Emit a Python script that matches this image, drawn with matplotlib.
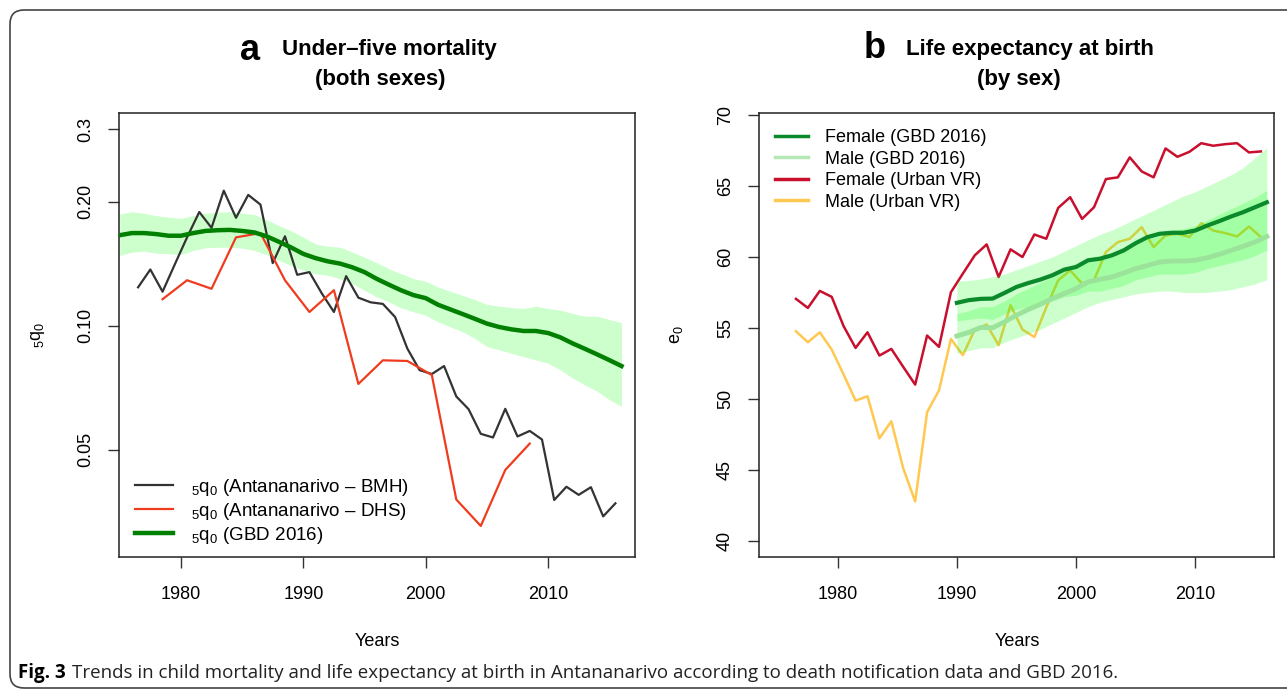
import matplotlib
matplotlib.use("Agg")
import matplotlib.pyplot as plt
from matplotlib.patches import FancyBboxPatch
from matplotlib.transforms import IdentityTransform
from matplotlib.ticker import FixedLocator, FixedFormatter, NullLocator

plt.rcParams['font.family'] = ['Liberation Sans', 'DejaVu Sans']
plt.rcParams['mathtext.fontset'] = 'custom'
plt.rcParams['mathtext.rm'] = 'Liberation Sans'
plt.rcParams['mathtext.it'] = 'Liberation Sans:italic'
plt.rcParams['mathtext.bf'] = 'Liberation Sans:bold'

# ---- panel a : under-five mortality (log scale) ----
gbd_years = list(range(1975, 2017))
gbd_q5 = [0.166, 0.168, 0.168, 0.167, 0.1655, 0.1655, 0.168, 0.170, 0.1707, 0.171,
          0.170, 0.1686, 0.165, 0.160, 0.155, 0.1495, 0.146, 0.1434, 0.1416, 0.1387,
          0.135, 0.130, 0.1258, 0.1219, 0.1187, 0.1167, 0.1125, 0.1096, 0.1068, 0.1040,
          0.1012, 0.0993, 0.098, 0.0971, 0.0971, 0.096, 0.0937, 0.0906, 0.0879, 0.0852,
          0.0825, 0.0798]
gbd_q5_hi = [0.1869, 0.1893, 0.1876, 0.1852, 0.1835, 0.1824, 0.1852, 0.1876, 0.1890, 0.1893,
             0.1879, 0.1862, 0.1811, 0.1752, 0.1703, 0.1641, 0.1581, 0.1561, 0.1552, 0.1510,
             0.1468, 0.1423, 0.1376, 0.1338, 0.1302, 0.1282, 0.1242, 0.1213, 0.1186, 0.1158,
             0.1128, 0.1116, 0.1107, 0.1101, 0.1116, 0.1101, 0.1091, 0.1071, 0.1055, 0.1055,
             0.1036, 0.1017]
gbd_q5_lo = [0.1482, 0.1510, 0.1518, 0.1501, 0.1496, 0.1490, 0.1524, 0.1547, 0.1552, 0.1552,
             0.1544, 0.1524, 0.1488, 0.1441, 0.1402, 0.1363, 0.1338, 0.1326, 0.1302, 0.1266,
             0.1219, 0.1175, 0.1143, 0.1105, 0.1081, 0.1061, 0.1022, 0.0994, 0.0967, 0.0932,
             0.0890, 0.0874, 0.0857, 0.0841, 0.0826, 0.0811, 0.0781, 0.0746, 0.0718, 0.0693,
             0.0661, 0.0637]

bmh_years = [1976.5, 1977.5, 1978.5, 1979.5, 1980.5, 1981.5, 1982.5, 1983.5, 1984.5, 1985.5,
             1986.5, 1987.5, 1988.5, 1989.5, 1990.5, 1991.5, 1992.5, 1993.5, 1994.5, 1995.5,
             1996.5, 1997.5, 1998.5, 1999.5, 2000.5, 2001.5, 2002.5, 2003.5, 2004.5, 2005.5,
             2006.5, 2007.5, 2008.5, 2009.5, 2010.5, 2011.5, 2012.5, 2013.5, 2014.5, 2015.5]
bmh_q5 = [0.124, 0.137, 0.121, 0.141, 0.164, 0.189, 0.173, 0.213, 0.183, 0.208,
          0.197, 0.142, 0.165, 0.133, 0.135, 0.120, 0.108, 0.132, 0.117, 0.114,
          0.113, 0.105, 0.088, 0.078, 0.0763, 0.0798, 0.0673, 0.0627, 0.0546, 0.0535,
          0.0628, 0.0538, 0.0555, 0.0529, 0.0377, 0.0406, 0.0388, 0.0405, 0.0344, 0.0370]

dhs_years = [1978.5, 1980.5, 1982.5, 1984.5, 1986.5, 1988.5, 1990.5, 1992.5,
             1994.5, 1996.5, 1998.5, 2000.5, 2002.5, 2004.5, 2006.5, 2008.5]
dhs_q5 = [0.116, 0.129, 0.123, 0.164, 0.168, 0.129, 0.108, 0.122,
          0.0722, 0.0824, 0.0821, 0.0759, 0.0378, 0.0326, 0.0446, 0.0517]

q5_ticks = [0.05, 0.10, 0.20, 0.3]
q5_ticklabels = ['0.05', '0.10', '0.20', '0.3']
year_ticks = [1980, 1990, 2000, 2010]

# ---- panel b : life expectancy at birth ----
vr_years = bmh_years
female_vr = [57.05, 56.41, 57.61, 57.19, 55.12, 53.59, 54.69, 53.05, 53.52, 52.25,
             51.0, 54.46, 53.66, 57.52, 58.83, 60.12, 60.89, 58.59, 60.54, 60.0,
             61.59, 61.29, 63.47, 64.22, 62.69, 63.51, 65.50, 65.62, 67.03, 66.04,
             65.62, 67.66, 67.07, 67.42, 68.03, 67.85, 67.96, 68.03, 67.38, 67.45]
male_vr = [54.76, 53.99, 54.69, 53.47, 51.71, 49.87, 50.18, 47.21, 48.41, 45.09,
           42.76, 49.05, 50.6, 54.22, 53.08, 54.88, 55.24, 53.78, 56.6, 54.88,
           54.36, 56.45, 58.36, 59.06, 58.13, 58.36, 60.35, 61.05, 61.29, 62.11,
           60.70, 61.52, 61.64, 61.41, 62.39, 61.87, 61.69, 61.45, 62.15, 61.41]

e0_years = list(range(1990, 2017))
female_gbd = [56.77, 56.96, 57.05, 57.07, 57.47, 57.89, 58.17, 58.41, 58.71, 59.11,
              59.30, 59.77, 59.88, 60.12, 60.47, 60.98, 61.41, 61.64, 61.71, 61.71,
              61.87, 62.22, 62.53, 62.86, 63.16, 63.51, 63.86]
female_gbd_hi = [58.3, 58.35, 58.45, 58.6, 58.8, 59.1, 59.4, 59.7, 60.0, 60.4,
                 60.8, 61.2, 61.6, 61.9, 62.3, 62.7, 63.1, 63.5, 63.9, 64.3,
                 64.6, 65.0, 65.4, 65.8, 66.3, 67.0, 67.7]
female_gbd_lo = [55.5, 55.6, 55.7, 55.6, 56.0, 56.3, 56.5, 56.7, 56.9, 57.2,
                 57.3, 57.6, 57.6, 57.8, 58.0, 58.4, 58.6, 58.8, 58.8, 58.8,
                 58.9, 59.2, 59.4, 59.6, 59.8, 60.1, 60.5]
male_gbd = [54.43, 54.68, 55.03, 55.01, 55.43, 55.90, 56.30, 56.67, 57.07, 57.42,
            57.78, 58.24, 58.43, 58.59, 58.88, 59.18, 59.41, 59.65, 59.72, 59.72,
            59.77, 59.95, 60.19, 60.47, 60.75, 61.05, 61.45]
male_gbd_hi = [56.0, 56.2, 56.5, 56.5, 56.9, 57.4, 57.8, 58.2, 58.6, 59.0,
               59.4, 59.9, 60.1, 60.3, 60.7, 61.1, 61.4, 61.7, 61.9, 62.0,
               62.2, 62.6, 63.0, 63.4, 63.8, 64.2, 64.7]
male_gbd_lo = [53.2, 53.4, 53.6, 53.6, 54.0, 54.3, 54.6, 54.9, 55.3, 55.7,
               56.1, 56.5, 56.8, 57.0, 57.2, 57.4, 57.5, 57.6, 57.6, 57.5,
               57.5, 57.5, 57.6, 57.7, 57.9, 58.1, 58.4]
e0_ticks = [40, 45, 50, 55, 60, 65, 70]

W, H = 1287, 691
fig = plt.figure(figsize=(W / 100, H / 100), dpi=100)

# rounded frame of the journal figure
frame = FancyBboxPatch((10, 3), 1400, 678, boxstyle="round,pad=0,rounding_size=14",
                       transform=IdentityTransform(), facecolor='none',
                       edgecolor='#444444', linewidth=1.2)
fig.add_artist(frame)

axa = fig.add_axes([119 / W, 134 / H, 515.5 / W, 444 / H])
axb = fig.add_axes([759 / W, 134 / H, 515 / W, 444 / H])


def style_axes(ax):
    for sp in ax.spines.values():
        sp.set_linewidth(1.1)
        sp.set_color('#222222')
    ax.tick_params(direction='out', length=8, width=1, labelsize=13,
                   color='#333333')
    ax.tick_params(axis='x', pad=13)
    ax.tick_params(axis='y', pad=10)
    ax.xaxis.set_major_locator(FixedLocator(year_ticks))
    for lab in ax.get_yticklabels():
        lab.set_rotation(90)
        lab.set_verticalalignment('center')


# panel a
axa.plot(bmh_years, bmh_q5, color='#333333', lw=1.6, label=r'$_5$q$_0$ (Antananarivo – BMH)', zorder=3)
axa.plot(dhs_years, dhs_q5, color='#f03c1e', lw=1.6, label=r'$_5$q$_0$ (Antananarivo – DHS)', zorder=3)
axa.fill_between(gbd_years, gbd_q5_lo, gbd_q5_hi, color='#00ff00', alpha=0.2, lw=0, zorder=1)
axa.plot(gbd_years, gbd_q5, color='#007f00', lw=3.2, label=r'$_5$q$_0$ (GBD 2016)', zorder=4)
axa.set_yscale('log')
axa.set_xlim(1974.94, 2017.06)
axa.set_ylim(0.0274, 0.329)
axa.yaxis.set_major_locator(FixedLocator(q5_ticks))
axa.yaxis.set_major_formatter(FixedFormatter(q5_ticklabels))
axa.yaxis.set_minor_locator(NullLocator())
style_axes(axa)
axa.legend(loc='lower left', bbox_to_anchor=(0.006, -0.004), frameon=False, fontsize=13.5,
           handlelength=2.0, handletextpad=1.0, labelspacing=0.15, borderpad=0.2)

# panel b
axb.plot(vr_years, female_vr, color='#c8102e', lw=1.8, zorder=2)
axb.plot(vr_years, male_vr, color='#ffc850', lw=1.8, zorder=2)
axb.fill_between(e0_years, female_gbd_lo, female_gbd_hi, color='#00ff00', alpha=0.2, lw=0, zorder=3)
axb.fill_between(e0_years, male_gbd_lo, male_gbd_hi, color='#00ff00', alpha=0.2, lw=0, zorder=3)
axb.plot(e0_years, female_gbd, color='#0a8a2a', lw=3, zorder=5)
axb.plot(e0_years, male_gbd, color='#9be39b', lw=3.5, zorder=4)
axb.set_xlim(1973.4, 2016.6)
axb.set_ylim(38.84, 70.16)
axb.yaxis.set_major_locator(FixedLocator(e0_ticks))
style_axes(axb)
h1 = plt.Line2D([], [], color='#0a8a2a', lw=2.5)
h2 = plt.Line2D([], [], color='#b5e8b5', lw=2.5)
h3 = plt.Line2D([], [], color='#c8102e', lw=2.5)
h4 = plt.Line2D([], [], color='#ffc850', lw=2.5)
axb.legend([h1, h2, h3, h4],
           ['Female (GBD 2016)', 'Male (GBD 2016)', 'Female (Urban VR)', 'Male (Urban VR)'],
           loc='upper left', bbox_to_anchor=(0.007, 0.992), frameon=False, fontsize=13,
           handlelength=1.8, handletextpad=0.95, labelspacing=0.25, borderpad=0.2)

# titles and labels
fig.text(250 / W, 1 - 50 / H, 'a', fontsize=26, fontweight='bold', ha='center', va='center')
fig.text(389 / W, 1 - 50 / H, 'Under–five mortality', fontsize=16, fontweight='bold', ha='center', va='center')
fig.text(380 / W, 1 - 80 / H, '(both sexes)', fontsize=16, fontweight='bold', ha='center', va='center')
fig.text(875 / W, 1 - 48 / H, 'b', fontsize=26, fontweight='bold', ha='center', va='center')
fig.text(1030 / W, 1 - 50 / H, 'Life expectancy at birth', fontsize=16, fontweight='bold', ha='center', va='center')
fig.text(1019 / W, 1 - 80 / H, '(by sex)', fontsize=16, fontweight='bold', ha='center', va='center')

fig.text(38 / W, 1 - 335 / H, r'$_5$q$_0$', fontsize=13, rotation=90, ha='center', va='center')
fig.text(676 / W, 1 - 335 / H, r'e$_0$', fontsize=13, rotation=90, ha='center', va='center')
fig.text(377 / W, 1 - 641 / H, 'Years', fontsize=13, ha='center', va='center')
fig.text(1017 / W, 1 - 641 / H, 'Years', fontsize=13, ha='center', va='center')

# caption
cap1 = fig.text(18 / W, 1 - 673 / H, 'Fig. 3', fontsize=13.5, fontweight='bold',
                family=['Open Sans', 'DejaVu Sans'], ha='left', va='center')
fig.canvas.draw()
bb = cap1.get_window_extent(fig.canvas.get_renderer())
fig.text((bb.x1 + 6) / W, 1 - 673 / H,
         'Trends in child mortality and life expectancy at birth in Antananarivo according to death notification data and GBD 2016.',
         fontsize=13.5, family=['Open Sans', 'DejaVu Sans'], ha='left', va='center', color='#222222')

fig.savefig('out.png', dpi=100)
